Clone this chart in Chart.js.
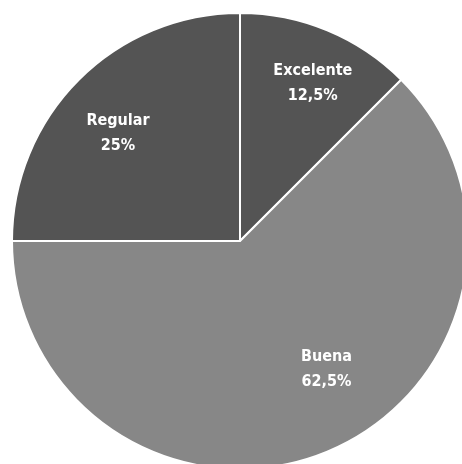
<!DOCTYPE html>
<html>
<head>
<meta charset="utf-8">
<script src="https://cdn.jsdelivr.net/npm/chart.js@4"></script>
<style>
  html, body { margin: 0; padding: 0; background: #fff; overflow: hidden; }
  #wrap { position: absolute; left: 0; top: 0; width: 480px; height: 482px; }
</style>
</head>
<body>
<div id="wrap"><canvas id="chart"></canvas></div>
<script>
const categories = ['Excelente', 'Buena', 'Regular']
const shares = [12.5, 62.5, 25]
const shareLabels = ['12,5%', '62,5%', '25%']

const sliceColors = ['#545454', '#878787', '#545454']
// label placement: fraction of radius, angle shift in degrees
const labelRadius = [0.77, 0.67, 0.72]
const labelShift = [2, -12, -3]

const labelPlugin = {
  id: 'sliceLabels',
  afterDatasetsDraw(chart) {
    const ctx = chart.ctx
    const meta = chart.getDatasetMeta(0)
    ctx.save()
    ctx.fillStyle = '#ffffff'
    ctx.textAlign = 'center'
    ctx.textBaseline = 'alphabetic'
    ctx.font = 'bold 16px "DejaVu Sans Condensed", "Roboto", sans-serif'
    meta.data.forEach((arc, i) => {
      const p = arc.getProps(['x', 'y', 'startAngle', 'endAngle', 'outerRadius'], true)
      const mid = (p.startAngle + p.endAngle) / 2 + labelShift[i] * Math.PI / 180
      const r = p.outerRadius * labelRadius[i]
      const cx = p.x + Math.cos(mid) * r
      const cy = p.y + Math.sin(mid) * r
      ctx.fillText(categories[i], cx, cy - 6)
      ctx.fillText(shareLabels[i], cx, cy + 19)
    })
    ctx.restore()
  }
}

new Chart(document.getElementById('chart'), {
  type: 'pie',
  data: {
    labels: categories,
    datasets: [{
      data: shares,
      backgroundColor: sliceColors,
      borderColor: '#ffffff',
      borderWidth: 2,
    }]
  },
  options: {
    responsive: true,
    maintainAspectRatio: false,
    animation: false,
    layout: { padding: { left: 11, right: 11, top: 12, bottom: 12 } },
    plugins: {
      legend: { display: false },
      tooltip: { enabled: false },
    }
  },
  plugins: [labelPlugin]
})
</script>
</body>
</html>
